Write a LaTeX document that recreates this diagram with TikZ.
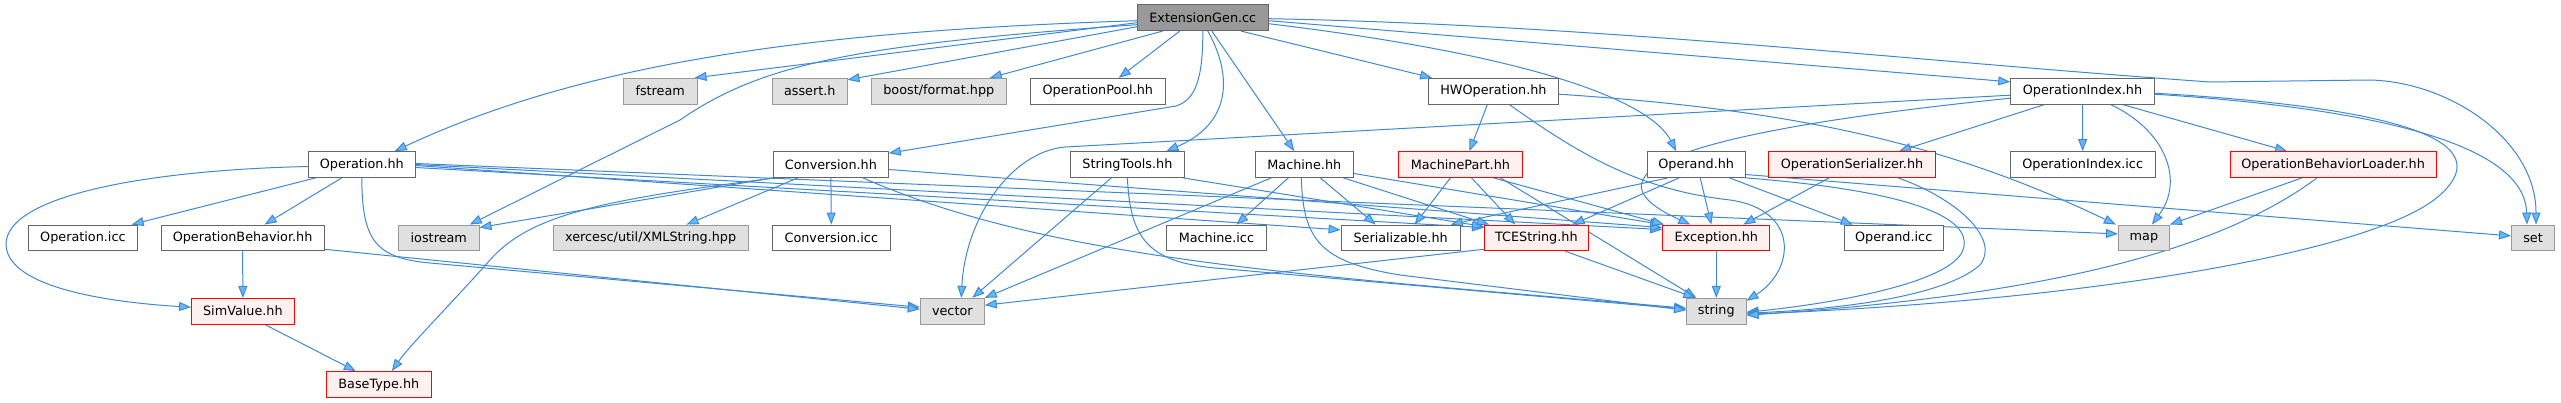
\documentclass[tikz,border=0pt]{standalone}
\usepackage{fontspec}
\setmainfont{DejaVu Sans}
\usetikzlibrary{arrows.meta}
\definecolor{edgecol}{HTML}{3F88D2}
\definecolor{arrowfill}{HTML}{63B8FF}
\definecolor{grey40}{HTML}{666666}
\definecolor{grey60}{HTML}{999999}
\definecolor{extfill}{HTML}{E0E0E0}
\definecolor{rootfill}{HTML}{999999}
\definecolor{redfill}{HTML}{FFF0F0}
\definecolor{redline}{HTML}{FF0000}
\pgfdeclarelayer{bg}
\pgfsetlayers{bg,main}
\begin{document}
\begin{tikzpicture}[x=1pt,y=-1pt,
 box/.style={draw=grey40, fill=white, line width=1pt, minimum height=25.7pt, inner sep=0pt, font=\fontsize{12.8}{15}\selectfont},
 extbox/.style={box, draw=grey60, fill=extfill},
 redbox/.style={box, draw=redline, fill=redfill},
 rootbox/.style={box, draw=grey40, fill=rootfill},
 dep/.style={draw=edgecol, line width=1pt, -{Triangle[length=12pt,width=9pt,fill=arrowfill]}}]
\useasboundingbox (0,0) rectangle (2561,403);
% row 0
\node[rootbox, minimum width=130.5pt] (eg) at (1202.8,17.7) {ExtensionGen.cc};
% row 1
\node[extbox, minimum width=73.7pt] (fstream) at (660.2,91.2) {fstream};
\node[extbox, minimum width=74.4pt] (assert) at (809.8,91.2) {assert.h};
\node[extbox, minimum width=134.5pt] (boost) at (938.8,91.2) {boost/format.hpp};
\node[box, minimum width=134.4pt] (oppool) at (1097.8,91.2) {OperationPool.hh};
\node[box, minimum width=129.6pt] (hwop) at (1493.4,91.2) {HWOperation.hh};
\node[box, minimum width=143.5pt] (oi) at (2082.5,91.2) {OperationIndex.hh};
% row 2
\node[box, minimum width=106.5pt] (op) at (361.8,164.5) {Operation.hh};
\node[box, minimum width=114.9pt] (conv) at (830.9,164.5) {Conversion.hh};
\node[box, minimum width=113.6pt] (st) at (1127.4,164.5) {StringTools.hh};
\node[box, minimum width=97.9pt] (mach) at (1304.3,164.5) {Machine.hh};
\node[redbox, minimum width=123.3pt] (mp) at (1460.4,164.5) {MachinePart.hh};
\node[box, minimum width=97.6pt] (opd) at (1696.2,164.5) {Operand.hh};
\node[redbox, minimum width=167.5pt] (os) at (1852,164.5) {OperationSerializer.hh};
\node[box, minimum width=144.7pt] (oiicc) at (2082.7,164.5) {OperationIndex.icc};
\node[redbox, minimum width=206.2pt] (obl) at (2333.1,164.5) {OperationBehaviorLoader.hh};
% row 3
\node[box, minimum width=108.6pt] (opicc) at (82.9,237.9) {Operation.icc};
\node[box, minimum width=162.8pt] (obh) at (242.6,237.9) {OperationBehavior.hh};
\node[extbox, minimum width=80.4pt] (ios) at (438.8,237.9) {iostream};
\node[extbox, minimum width=195.2pt] (xer) at (650.6,237.9) {xercesc/util/XMLString.hpp};
\node[box, minimum width=117.4pt] (convicc) at (831.3,237.9) {Conversion.icc};
\node[box, minimum width=99.8pt] (micc) at (1216.4,237.9) {Machine.icc};
\node[box, minimum width=119.1pt] (ser) at (1400.6,237.9) {Serializable.hh};
\node[redbox, minimum width=103.5pt] (tce) at (1536.3,237.9) {TCEString.hh};
\node[redbox, minimum width=107.3pt] (exc) at (1716.3,237.9) {Exception.hh};
\node[box, minimum width=98.6pt] (oicc) at (1893.7,237.9) {Operand.icc};
\node[extbox, minimum width=51pt] (mapn) at (2143.9,237.9) {map};
\node[extbox, minimum width=43pt] (setn) at (2533,237.9) {set};
% row 4
\node[redbox, minimum width=102.7pt] (sim) at (242.9,311.2) {SimValue.hh};
\node[extbox, minimum width=64pt] (vecn) at (952.3,311.2) {vector};
\node[extbox, minimum width=59.4pt] (strn) at (1716.3,311.2) {string};
% row 5
\node[redbox, minimum width=104.4pt] (bt) at (378.8,384.5) {BaseType.hh};

\begin{pgfonlayer}{bg}
% ExtensionGen.cc
\draw[dep] ([yshift=-3pt]eg.west) .. controls (850,30) and (600,55) .. ([xshift=33pt]op.north);
\draw[dep] ([yshift=-5pt]eg.west) -- ([xshift=-3pt]fstream.north east);
\draw[dep] ([yshift=-7pt]eg.west) .. controls (850,45) and (760,65) .. (680,120) -- ([xshift=31pt]ios.north);
\draw[dep] ([yshift=-9pt]eg.west) -- ([yshift=-2pt]assert.north east);
\draw[dep] ([xshift=-40pt]eg.south) -- ([xshift=51pt]boost.north);
\draw[dep] ([xshift=-23pt]eg.south) -- ([xshift=21pt]oppool.north);
\draw[dep] (eg.south) .. controls (1203,80) and (1195,100) .. (1176,106) -- ([yshift=-2pt]conv.north east);
\draw[dep] ([xshift=5pt]eg.south) .. controls (1235,80) and (1228,125) .. ([xshift=39pt]st.north);
\draw[dep] ([xshift=9pt]eg.south) -- ([xshift=-10pt]mach.north);
\draw[dep] ([xshift=38pt]eg.south) -- ([xshift=4pt]hwop.north west);
\draw[dep] ([yshift=-3pt]eg.east) -- ([yshift=-4pt]oi.north west);
\draw[dep] ([yshift=-6pt]eg.east) .. controls (1530,55) and (1650,100) .. ([xshift=-20pt]opd.north);
\draw[dep] ([yshift=-1pt]eg.east) .. controls (1600,25) and (1900,60) .. (2210,82) -- (2370,80) .. controls (2450,82) and (2536,140) .. ([xshift=3pt]setn.north);
% Operation.hh
\draw[dep] ([xshift=-46pt]op.south) -- ([xshift=-6pt]opicc.north east);
\draw[dep] ([xshift=-20pt]op.south) -- ([xshift=22pt]obh.north);
\draw[dep] ([yshift=-2pt]op.west) .. controls (150,170) and (5,195) .. (6,245) .. controls (8,290) and (120,303) .. ([yshift=4pt]sim.west);
\draw[dep] (op.south) .. controls (362,240) and (375,258) .. (430,263) -- ([yshift=4pt]vecn.west);
\draw[dep] ([yshift=-1pt]op.east) -- ([yshift=8pt]ser.west);
\draw[dep] ([yshift=-3pt]op.east) -- ([yshift=-3pt]tce.north west);
\draw[dep] (op.east) -- ([yshift=-5pt]exc.north west);
\draw[dep] ([yshift=1pt]op.east) -- ([yshift=4pt]mapn.west);
% Conversion.hh
\draw[dep] (conv.south west) -- ([yshift=-3pt]ios.north east);
\draw[dep] ([xshift=-33pt]conv.south) -- ([xshift=36pt]xer.north);
\draw[dep] (conv.south) -- (convicc.north);
\draw[dep] ([xshift=3pt]conv.south west) .. controls (600,200) and (530,215) .. (490,260) .. controls (450,305) and (410,345) .. ([xshift=13pt]bt.north);
\draw[dep] ([xshift=32pt]conv.south) .. controls (1050,260) and (1300,275) .. ([yshift=3pt]strn.west);
\draw[dep] ([yshift=-5pt]conv.east) -- ([yshift=-3pt]exc.north west);
% StringTools.hh
\draw[dep] ([xshift=-16pt]st.south) -- ([xshift=20pt]vecn.north);
\draw[dep] (st.south) .. controls (1130,240) and (1150,262) .. (1215,268) -- ([yshift=2pt]strn.west);
\draw[dep] ([xshift=-2pt]st.south east) -- ([yshift=-2pt]tce.north west);
% Machine.hh
\draw[dep] ([xshift=-33pt]mach.south) -- (vecn.north east);
\draw[dep] ([xshift=-16pt]mach.south) -- ([xshift=20pt]micc.north);
\draw[dep] ([xshift=-3pt]mach.south) .. controls (1303,240) and (1320,262) .. (1400,275) -- ([yshift=1pt]strn.west);
\draw[dep] ([xshift=16pt]mach.south) -- ([xshift=-25pt]ser.north);
\draw[dep] ([xshift=39pt]mach.south) -- ([xshift=5pt]tce.north west);
\draw[dep] ([yshift=-9pt]mach.east) -- (exc.north west);
% MachinePart.hh
\draw[dep] ([xshift=-10pt]mp.south) -- ([xshift=14pt]ser.north);
\draw[dep] ([xshift=11pt]mp.south) -- ([xshift=-21pt]tce.north);
\draw[dep] ([xshift=33pt]mp.south) -- ([xshift=2pt]exc.north west);
\draw[dep] ([xshift=40pt]mp.south) -- ([xshift=-20pt]strn.north);
% HWOperation.hh
\draw[dep] ([xshift=-6pt]hwop.south) -- ([xshift=9pt]mp.north);
\draw[dep] ([xshift=16pt]hwop.south) .. controls (1580,155) and (1640,190) .. (1730,200) .. controls (1800,210) and (1795,270) .. ([yshift=-3pt]strn.north east);
\draw[dep] ([yshift=-3pt]hwop.east) .. controls (1800,110) and (1950,145) .. ([xshift=-2pt]mapn.north west);
% Operand.hh
\draw[dep] ([xshift=-28pt]opd.south) -- ([xshift=-10pt]ser.north east);
\draw[dep] ([xshift=-17pt]opd.south) -- ([xshift=-16pt]tce.north east);
\draw[dep] ([xshift=4pt]opd.south) -- ([xshift=-5pt]exc.north);
\draw[dep] ([xshift=33pt]opd.south) -- ([xshift=-41pt]oicc.north);
\draw[dep] ([yshift=-10pt]opd.east) -- ([yshift=2pt]setn.west);
\draw[dep] (opd.south east) .. controls (1900,190) and (1975,215) .. (1963,250) .. controls (1950,285) and (1820,305) .. ([yshift=-1pt]strn.east);
% OperationSerializer.hh
\draw[dep] ([xshift=-23pt]os.south) -- ([xshift=27pt]exc.north);
\draw[dep] ([xshift=46pt]os.south) .. controls (1960,200) and (2000,240) .. (1980,265) .. controls (1940,300) and (1820,310) .. ([yshift=-2pt]strn.east);
% OperationIndex.hh
\draw[dep] ([xshift=-38pt]oi.south) -- ([xshift=47pt]os.north);
\draw[dep] (oi.south) -- (oiicc.north);
\draw[dep] ([xshift=28pt]oi.south) .. controls (2165,130) and (2185,180) .. ([xshift=8pt]mapn.north);
\draw[dep] ([xshift=40pt]oi.south) -- ([xshift=-46pt]obl.north);
\draw[dep] ([yshift=-2pt]oi.east) .. controls (2440,110) and (2490,150) .. (2440,195) .. controls (2380,250) and (2100,300) .. ([yshift=-3pt]strn.east);
\draw[dep] ([yshift=-3pt]oi.east) .. controls (2400,110) and (2525,150) .. ([xshift=-6pt]setn.north);
\draw[dep] ([yshift=-4pt]oi.west) -- (1065,147) .. controls (1010,152) and (965,220) .. ([xshift=9pt]vecn.north);
\draw[dep] ([yshift=-7pt]oi.west) .. controls (1700,130) and (1570,170) .. ([xshift=-26pt]exc.north);
% OperationBehaviorLoader.hh
\draw[dep] ([xshift=-31pt]obl.south) -- (mapn.north east);
\draw[dep] ([xshift=-16pt]obl.south) .. controls (2220,250) and (2050,295) .. ([yshift=-4pt]strn.east);
% others
\draw[dep] ([xshift=22pt]sim.south) -- ([xshift=-23pt]bt.north);
\draw[dep] (obh.south) -- (sim.north);
\draw[dep] ([yshift=2pt]obh.south east) -- ([yshift=2pt]vecn.west);
\draw[dep] ([yshift=2pt]tce.south west) -- ([yshift=6pt]vecn.east);
\draw[dep] ([xshift=29pt]tce.south) -- ([xshift=-21pt]strn.north);
\draw[dep] (exc.south) -- (strn.north);
\end{pgfonlayer}
\end{tikzpicture}
\end{document}
